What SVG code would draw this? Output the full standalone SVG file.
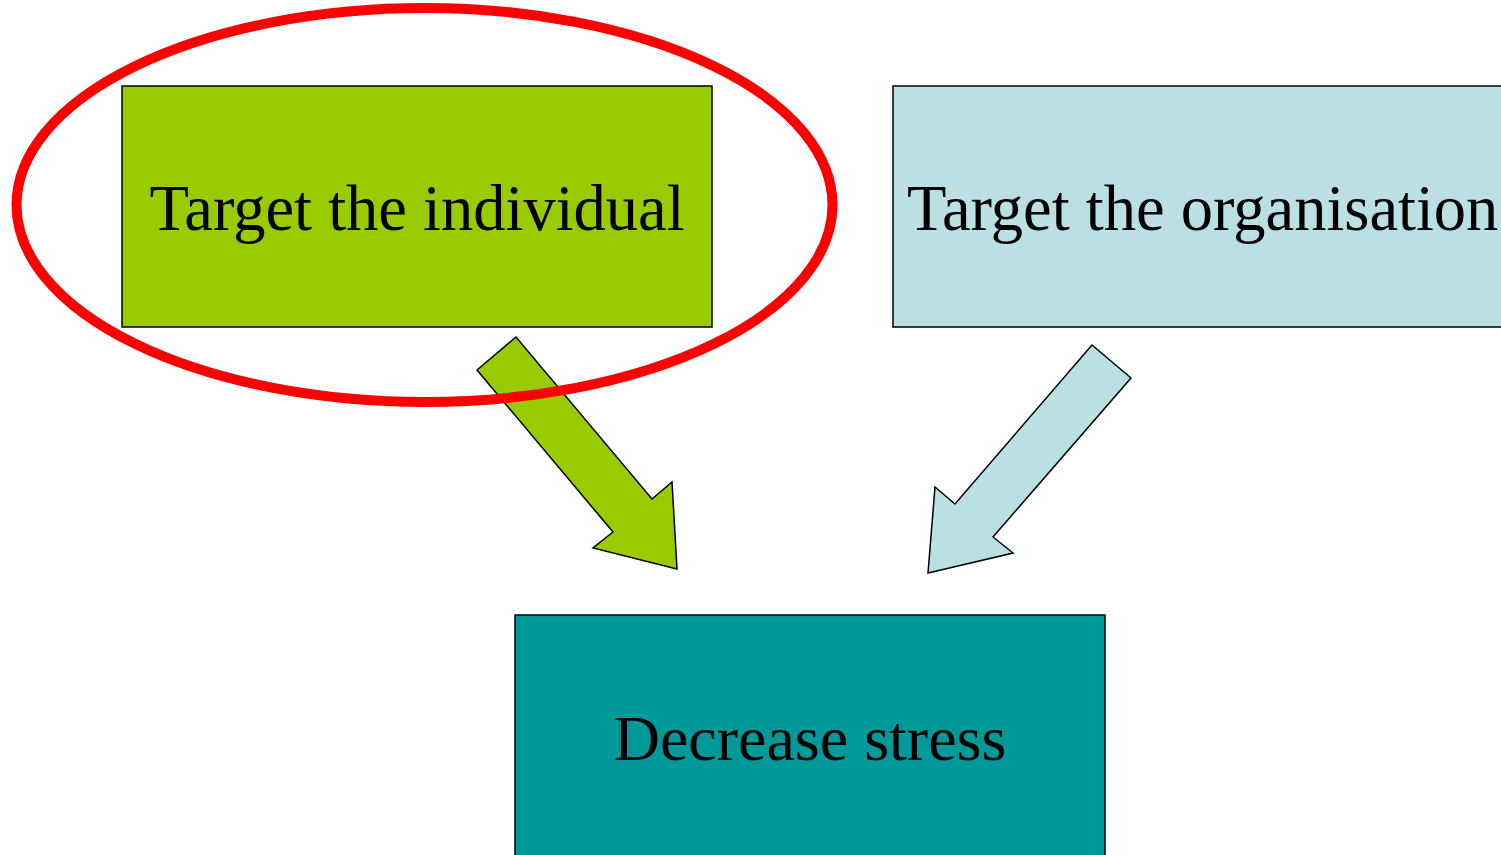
<svg xmlns="http://www.w3.org/2000/svg" width="1501" height="855" viewBox="0 0 1501 855">
<style>
.box{stroke:#000;stroke-width:1.5}
.lbl{font-family:"Liberation Serif","Times New Roman",serif;font-size:64px;fill:#000}
.top{font-size:64.5px}
.arr{stroke:#000;stroke-width:1.5;stroke-linejoin:miter}
</style>
<rect width="1501" height="855" fill="#fff"/>
<g id="node-individual">
<rect class="box" x="122" y="86" width="590" height="241" fill="#99CC00"/>
<text class="lbl top" x="417" y="230" text-anchor="middle">Target the individual</text>
</g>
<g id="node-organisation">
<rect class="box" x="893" y="86" width="640" height="241" fill="#BBE0E3"/>
<text class="lbl top" x="907" y="230">Target the organisation</text>
</g>
<g id="node-decrease">
<rect class="box" x="515" y="615" width="590" height="260" fill="#009999"/>
<text class="lbl" x="810" y="760" text-anchor="middle">Decrease stress</text>
</g>
<g id="connectors">
<polygon class="arr" fill="#99CC00" points="516,337 477,370 613,532 593,548 677,569 672,482 652,499"/>
<polygon class="arr" fill="#BBE0E3" points="1092,345 1131,378 993,537 1013,553 928,573 935,487 955,504"/>
</g>
<g id="highlight">
<ellipse cx="424.5" cy="205" rx="408" ry="197" fill="none" stroke="#FF0000" stroke-width="10"/>
</g>
</svg>
